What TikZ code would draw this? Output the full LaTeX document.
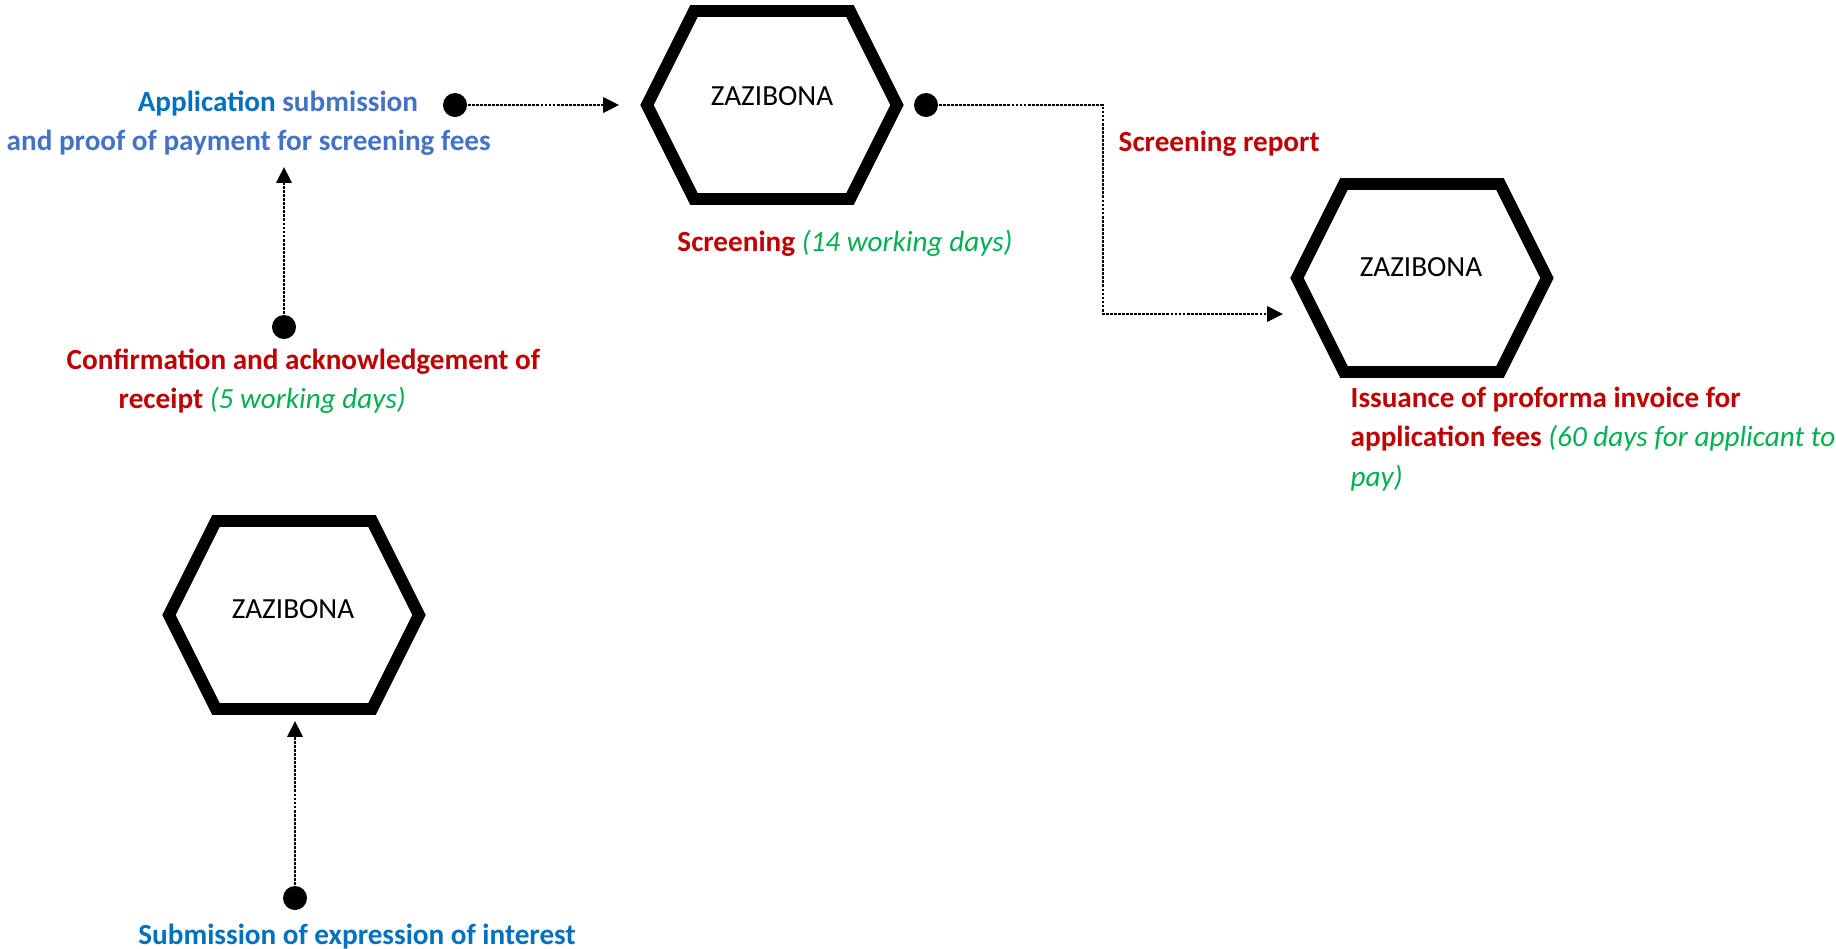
\documentclass[tikz,border=0pt]{standalone}
\usepackage{fontspec}
\setmainfont{Carlito}
\usetikzlibrary{arrows.meta}
\usetikzlibrary{calc}

\definecolor{appblue}{HTML}{0070C0}
\definecolor{subblue}{HTML}{4472C4}
\definecolor{repred}{HTML}{C00000}
\definecolor{daygreen}{HTML}{00B050}

\tikzset{
	hexline/.style={line width=3.4pt,line join=miter},
	zaz/.style={font=\fontsize{8.3}{10}\selectfont,inner sep=0pt},
	steplabel/.style={font=\fontsize{8.3}{11.2}\selectfont\bfseries,inner sep=0pt,align=left},
	dotnode/.style={circle,fill=black,inner sep=0pt,minimum size=0.24cm},
	flow/.style={line width=0.45pt,dash pattern=on 0.8pt off 0.35pt,-{Triangle[length=4.5pt,width=4.4pt]}}
}

\newcommand{\workdays}[1]{{\mdseries\itshape\color{daygreen}#1}}

\begin{document}
\begin{tikzpicture}[x=0.01cm,y=-0.01cm]
	\useasboundingbox (0,0) rectangle (1836,948);
	
	% hexagons
	\coordinate (scr) at (772,105);
	\coordinate (inv) at (1422,278);
	\coordinate (eoi) at (294,615);
	\foreach \hx in {scr,inv,eoi}
		\draw[hexline] (\hx) +(-125,0) -- +(-78,-94) -- +(78,-94) -- +(125,0) -- +(78,94) -- +(-78,94) -- cycle;
	
	\node[zaz] (scrname) at (772,96) {ZAZIBONA};
	\node[zaz] (invname) at (1421,267) {ZAZIBONA};
	\node[zaz] (eoiname) at (293,609) {ZAZIBONA};
	
	% dots
	\node[dotnode] (appdot) at (455,105) {};
	\node[dotnode] (scrdot) at (926,105) {};
	\node[dotnode] (confdot) at (284,327) {};
	\node[dotnode] (subdot) at (295,898) {};
	
	\coordinate (scrin) at (619,105);
	\coordinate (appin) at (284,167);
	\coordinate (repbend) at (1103,314);
	\coordinate (invin) at (1283,314);
	\coordinate (eoiin) at (295,721);
	
	\draw[flow] (appdot) -- (scrin);
	\draw[flow] (scrdot) -| (repbend) -- (invin);
	\draw[flow] (confdot) -- (appin);
	\draw[flow] (subdot) -- (eoiin);
	
	% labels
	\node[steplabel,anchor=west] (applabel) at (6,123) {\hspace*{1.31cm}{\color{appblue}Application} {\color{subblue}submission}\\ {\color{subblue}and proof of payment for screening fees}};
	\node[steplabel,text=repred] (scrlabel) at (845,243) {Screening \workdays{(14 working days)}};
	\node[steplabel,text=repred,anchor=west] (replabel) at (1118,144) {Screening report};
	\node[steplabel,text=repred,anchor=west] (conflabel) at (66,381) {Confirmation and acknowledgement of\\ \hspace*{0.52cm}receipt \workdays{(5 working days)}};
	\node[steplabel,text=repred,anchor=west] (invlabel) at (1350,439) {Issuance of proforma invoice for\\ application fees \workdays{(60 days for applicant to}\\ \workdays{pay)}};
	\node[steplabel,text=appblue] (sublabel) at (357,937) {Submission of expression of interest};
\end{tikzpicture}
\end{document}
